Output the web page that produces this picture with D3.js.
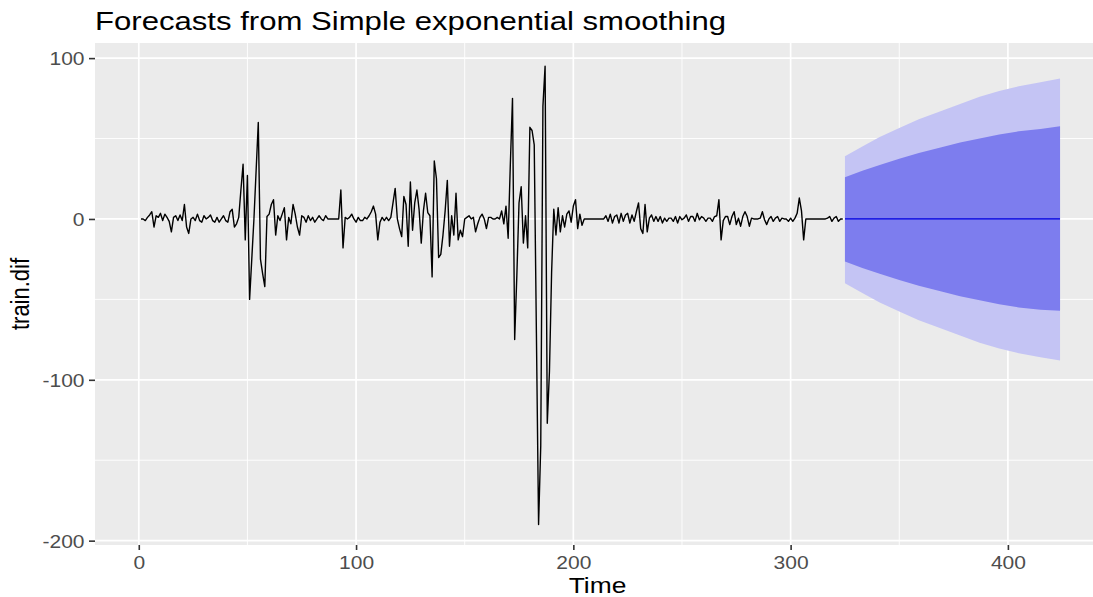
<!DOCTYPE html>
<html>
<head>
<meta charset="utf-8">
<script src="https://cdn.jsdelivr.net/npm/d3@7"></script>
<style>
  body { margin: 0; background: #fff; }
  svg { display: block; }
  text { font-family: "Liberation Sans", Arial, sans-serif; }
</style>
</head>
<body>
<div id="chart"></div>
<script>
// training series (differenced), t = 1..324
var trainDif = [
    0, 0, -1, 1, 2.5, 4.5, -5, 2, 1, 3.5,
    -1, 3, 1, -1.5, -8, 1, 2, -1, 2.5, -1,
    9, -5, -9, 0, 1, -1, 3, -1, -2, 2,
    0, 1, 2.5, -1, -2, 1, -2, 0, 2, -1,
    -2, 4.5, 6, -5, -3, 1, 18, 34, -13, 27,
    -50, -25, 0, 30, 60, -25, -34, -42, 1.5, 3,
    9, 12, -10, 2, -1, 3, 7, -13, 1, -3,
    9, 3, -5, -10, 2, 1, -2, 2, -1, 1,
    -2, 0, 2, 0, -1, 2, 0, 0, 0, 0,
    0, 0, 18, -18, 1, 0, 1, 3, 0, -2,
    1, -1, -1, 1, 0, 2, 4.5, 8, 3, -13,
    -2, 1, -1, 1, -1, 1, 10, 19, 0, -6,
    -11, 14, 9, -17, 23, -7, 10, 18, 6, -15,
    5, 16, 4, 2, -36, 36, 25, -24, -22, -10,
    5, 24, -17, 2, -10, 16, -13, -7, -11, 0,
    1, 2, 0, 1, -8, -3, 1, 3, 0, -6,
    1, 1, 0, 0, 1, 0, 5, -3, 8, -12,
    34, 75, -75, -35, 10, 20, -15, 2, -18, 57,
    55, 46, -71, -190, -141, 70, 95, -127, -95, -33,
    6, -10, 7, -8, 2, -5, 3, 5, -2, 8,
    12, -6, 3, -4, 0, 0, 0, 0, 0, 0,
    0, 0, 0, 0, 2, -1.5, 3, -2.5, 1.5, 2.5,
    -2.5, 3.5, -1.5, 2.5, 3.5, -2.5, 2.5, -1.5, 4.5, 10,
    -6, -9, 9, -8, 0.5, 2.5, -1.5, 1.5, -1.5, 1.5,
    -2.5, 0.5, -1.5, 0.5, 0.5, -1.5, 1.5, -2.5, 1.5, -0.5,
    0.5, 2.5, -1.5, 1.5, 1.5, -1.5, 3.5, -0.5, 1.5, 0.5,
    -1.5, 0.5, 0.5, -1.5, 1.5, 2, 12, -13, -1, 1.5,
    1.5, -3.5, 1.5, 4.5, -3.5, 0.5, -4.5, 1.5, 4.5, 1.5,
    -4.5, 0.5, 0, 0, 0, 0.5, 4.5, -0.5, -3.5, 0,
    1.5, -1.5, 0.5, 1.5, -1.5, 0.5, 0, 0, -1.5, 0.5,
    -1.5, 0.5, 3.5, 13, 5, -13, 0, 0, 0, 0,
    0, 0, 0, 0, 0, 0, 0.5, 1.5, -1.5, 0.5,
    1.5, -1.5, 0, 0
];

// forecast (h = 1..100), read at a few steps
var fcTime = [325, 333, 341, 350, 359, 369, 378, 387, 396, 405, 415, 424];
var fcMean = [0, 0, 0, 0, 0, 0, 0, 0, 0, 0, 0, 0];
var hi80 = [26, 30, 33.5, 37.5, 41, 44.5, 47.5, 50, 52.5, 54.5, 56, 57.6];
var lo80 = [-26.5, -30.5, -34, -38, -41.5, -45, -48, -50.5, -53, -55, -56.5, -57];
var hi95 = [39, 45, 51, 56.5, 62, 67, 71.5, 76, 79.5, 82.5, 85, 87.3];
var lo95 = [-40, -46, -52, -57.5, -63, -68, -72.5, -77, -80.5, -83.5, -86, -88];

var xTicks = [0, 100, 200, 300, 400];
var xMinor = [50, 150, 250, 350];
var yTicks = [-200, -100, 0, 100];
var yMinor = [-150, -50, 50];

var width = 1093, height = 597;
var panel = { left: 95, right: 1106, top: 43, bottom: 545 };
var stretch = 1.2; // the picture is a bit wider than tall

var svg = d3.select("#chart")
    .append("svg")
    .attr("width", width)
    .attr("height", height);

var x = d3.scaleLinear()
    .domain([-20.15, 445.15])
    .range([panel.left, panel.right]);

var y = d3.scaleLinear()
    .domain([-202.7, 109.4])
    .range([panel.bottom, panel.top]);

// panel background
svg.append("rect")
    .attr("x", panel.left)
    .attr("y", panel.top)
    .attr("width", panel.right - panel.left)
    .attr("height", panel.bottom - panel.top)
    .attr("fill", "#EBEBEB");

// grid lines
svg.append("g").selectAll("line")
    .data(xMinor).enter().append("line")
    .attr("x1", d => x(d)).attr("x2", d => x(d))
    .attr("y1", panel.top).attr("y2", panel.bottom)
    .attr("stroke", "#fff").attr("stroke-width", 0.9);
svg.append("g").selectAll("line")
    .data(yMinor).enter().append("line")
    .attr("y1", d => y(d)).attr("y2", d => y(d))
    .attr("x1", panel.left).attr("x2", panel.right)
    .attr("stroke", "#fff").attr("stroke-width", 0.9);
svg.append("g").selectAll("line")
    .data(xTicks).enter().append("line")
    .attr("x1", d => x(d)).attr("x2", d => x(d))
    .attr("y1", panel.top).attr("y2", panel.bottom)
    .attr("stroke", "#fff").attr("stroke-width", 1.7);
svg.append("g").selectAll("line")
    .data(yTicks).enter().append("line")
    .attr("y1", d => y(d)).attr("y2", d => y(d))
    .attr("x1", panel.left).attr("x2", panel.right)
    .attr("stroke", "#fff").attr("stroke-width", 1.7);

// prediction intervals
var fc = fcTime.map(function(t, i) {
    return { t: t, mean: fcMean[i], hi80: hi80[i], lo80: lo80[i], hi95: hi95[i], lo95: lo95[i] };
});

svg.append("path")
    .datum(fc)
    .attr("fill", "#C4C4F4")
    .attr("d", d3.area().x(d => x(d.t)).y0(d => y(d.lo95)).y1(d => y(d.hi95)));

svg.append("path")
    .datum(fc)
    .attr("fill", "#7D7DEE")
    .attr("d", d3.area().x(d => x(d.t)).y0(d => y(d.lo80)).y1(d => y(d.hi80)));

svg.append("path")
    .datum(fc)
    .attr("fill", "none")
    .attr("stroke", "#0000E0")
    .attr("stroke-width", 1.3)
    .attr("d", d3.line().x(d => x(d.t)).y(d => y(d.mean)));

// the series
svg.append("path")
    .datum(trainDif)
    .attr("fill", "none")
    .attr("stroke", "#000")
    .attr("stroke-width", 1.4)
    .attr("stroke-linejoin", "round")
    .attr("d", d3.line().x((d, i) => x(i + 1)).y(d => y(d)));

// axes (plain hyphen for negatives, like R)
var fmt = function(d) { return String(d); };
var xAxis = svg.append("g")
    .attr("transform", "translate(0," + panel.bottom + ")")
    .call(d3.axisBottom(x).tickValues(xTicks).tickFormat(fmt).tickSize(5).tickPadding(4));
var yAxis = svg.append("g")
    .attr("transform", "translate(" + panel.left + ",0)")
    .call(d3.axisLeft(y).tickValues(yTicks).tickFormat(fmt).tickSize(6).tickPadding(3));

[xAxis, yAxis].forEach(function(g) {
    g.select(".domain").remove();
    g.selectAll(".tick line").attr("stroke", "#333").attr("stroke-width", 1.6);
    g.selectAll(".tick text")
        .attr("fill", "#4D4D4D")
        .style("font-size", "17.5px")
        .attr("font-family", null);
});

xAxis.selectAll(".tick text")
    .attr("dy", null)
    .attr("y", 24.5)
    .attr("transform", "scale(" + stretch + ",1)");

yAxis.selectAll(".tick text")
    .attr("dy", null)
    .attr("y", 6.5)
    .attr("x", -10.5 / stretch)
    .attr("transform", "scale(" + stretch + ",1)");

// axis titles
svg.append("text")
    .attr("transform", "translate(" + ((panel.left + panel.right) / 2 - 3) + ",593) scale(" + stretch + ",1)")
    .attr("text-anchor", "middle")
    .style("font-size", "22px")
    .text("Time");

svg.append("text")
    .attr("transform", "translate(29," + ((panel.top + panel.bottom) / 2) + ") scale(" + stretch + ",1) rotate(-90)")
    .attr("text-anchor", "middle")
    .style("font-size", "22px")
    .text("train.dif");

// title
svg.append("text")
    .attr("transform", "translate(" + panel.left + ",29.5) scale(1.22,1)")
    .style("font-size", "25.5px")
    .text("Forecasts from Simple exponential smoothing");
</script>
</body>
</html>
